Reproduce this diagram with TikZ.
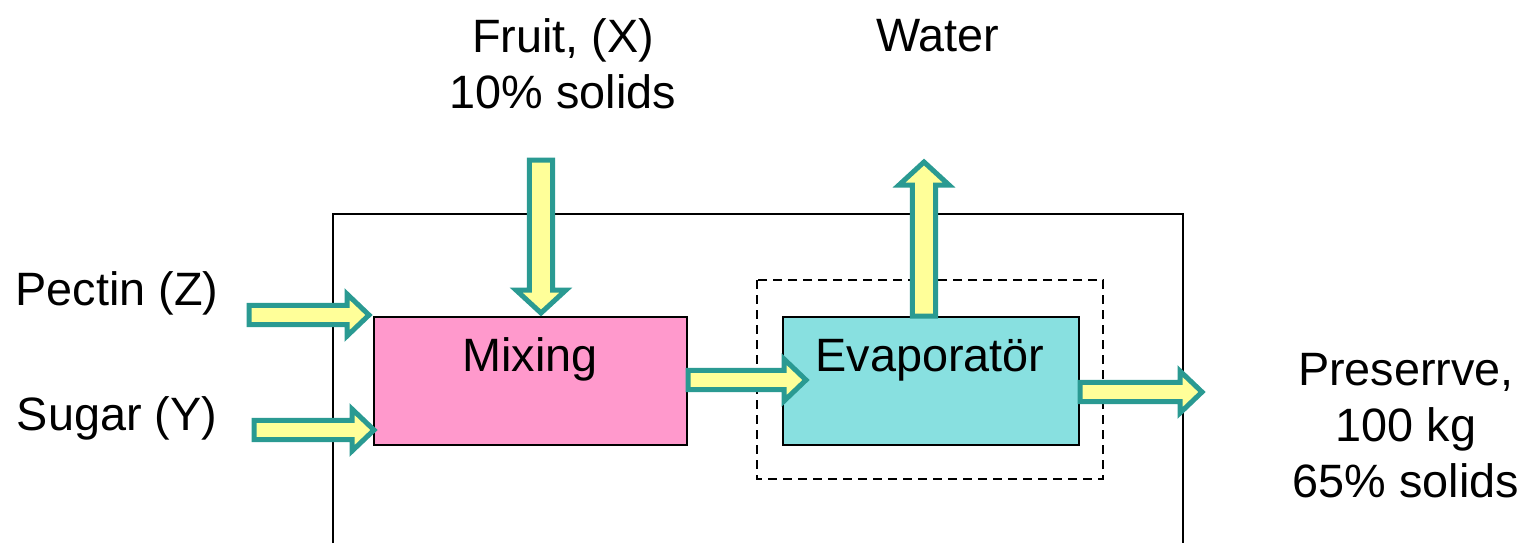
\documentclass[tikz,border=0pt]{standalone}
\usepackage{fontspec}
\setmainfont{Liberation Sans}
\usetikzlibrary{calc}
\definecolor{mixpink}{HTML}{FF99CC}
\definecolor{evapcyan}{HTML}{88E0E0}
\definecolor{flowfill}{HTML}{FFFF99}
\definecolor{flowline}{HTML}{2A9A92}
\tikzset{
  lbl/.style={font=\fontsize{23.4}{28}\selectfont, inner sep=0pt, align=center, anchor=base},
  unit/.style={draw=black, line width=1pt},
  flow/.style={draw=flowline, fill=flowfill, line width=2.5pt, line join=miter},
}
% block arrow from #1 to #2; #3 shaft half width, #4 head half width, #5 head length
\newcommand\blockarrow[5]{%
  \coordinate (ba-h) at ($(#2)!#5!(#1)$);
  \draw[flow] ($(#1)!#3!90:(#2)$) -- ($(ba-h)!#3!90:(#2)$) -- ($(ba-h)!#4!90:(#2)$)
    -- (#2) -- ($(ba-h)!#4!-90:(#2)$) -- ($(ba-h)!#3!-90:(#2)$) -- ($(#1)!#3!-90:(#2)$) -- cycle;}
\begin{document}
\begin{tikzpicture}[x=0.5pt, y=-0.5pt]
\useasboundingbox (0,0) rectangle (1532,543);
% plant boundary, open at the bottom
\draw[black, line width=1pt] (333,543) -- (333,214) -- (1183,214) -- (1183,543);
% evaporator control volume
\draw[black, line width=1pt, dash pattern=on 4.5pt off 3pt] (757,280) rectangle (1103,479);
% process units
\node[unit, fill=mixpink, minimum width=156.5pt, minimum height=64pt, anchor=north west] (mix) at (373,316) {};
\node[unit, fill=evapcyan, minimum width=148pt, minimum height=64pt, anchor=north west] (evap) at (782,316) {};
\node[lbl] (mixt) at (530,371) {Mixing};
\node[lbl] (evapt) at (930,371) {Evaporatör};
% stream labels
\node[lbl] (fruit) at (563,108) {Fruit, (X)\\10\% solids};
\node[lbl] (water) at (938,51) {Water};
\node[lbl] (pectin) at (117,305) {Pectin (Z)};
\node[lbl] (sugar) at (117,430) {Sugar (Y)};
\node[lbl] (prod) at (1406,497) {Preserrve,\\100 kg\\65\% solids};
% stream end points
\coordinate (pz0) at (249,315);
\coordinate (pz1) at (369,315);
\coordinate (sy0) at (254,430);
\coordinate (sy1) at (374,430);
\coordinate (fx0) at (541,160);
\coordinate (fx1) at (541,313);
\coordinate (w0) at (924,316);
\coordinate (w1) at (924,162);
\coordinate (me0) at (688,380);
\coordinate (me1) at (806,380);
\coordinate (ep0) at (1080,392);
\coordinate (ep1) at (1202,392);
% streams
\blockarrow{pz0}{pz1}{4.8pt}{10.5pt}{11pt}
\blockarrow{sy0}{sy1}{4.8pt}{10.5pt}{11pt}
\blockarrow{fx0}{fx1}{5.8pt}{12.5pt}{11.5pt}
\blockarrow{w0}{w1}{5.8pt}{12.5pt}{11.5pt}
\blockarrow{me0}{me1}{4.8pt}{10.5pt}{11pt}
\blockarrow{ep0}{ep1}{4.8pt}{10.5pt}{11pt}
\end{tikzpicture}
\end{document}
